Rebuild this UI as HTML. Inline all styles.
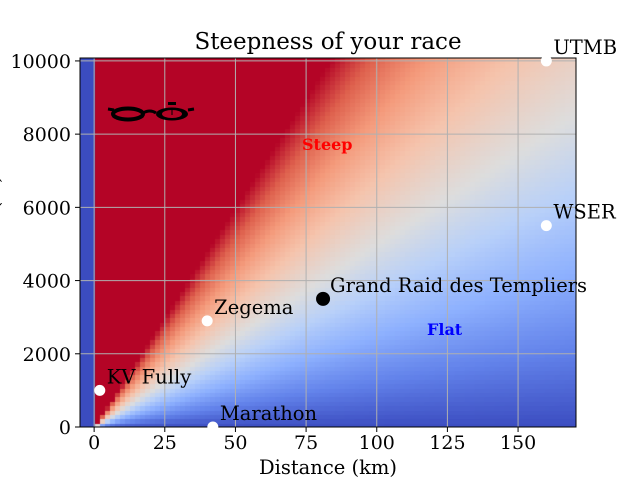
<!DOCTYPE html>
<html><head><meta charset="utf-8"><style>
body{margin:0;background:#fff;overflow:hidden;}
svg text{font-family:"DejaVu Serif","Liberation Serif",serif;}
</style></head><body>
<svg id="chart" width="640" height="480" viewBox="0 0 640 480">
<rect width="640" height="480" fill="#fff"/>
<foreignObject x="80" y="58" width="496" height="369">
<canvas id="hm" width="496" height="369" style="display:block"></canvas>
</foreignObject>
<g id="grid"></g>
<g id="glasses" transform="translate(108,105)">
<ellipse cx="20" cy="9" rx="15" ry="5.5" fill="none" stroke="#000" stroke-width="4"/>
<ellipse cx="64" cy="9" rx="16" ry="6.5" fill="#000"/>
<ellipse cx="64" cy="9" rx="10" ry="4" fill="#b40426"/>
<line x1="64" y1="5" x2="64" y2="10" stroke="#000" stroke-width="1"/>
<path d="M0 4 L6 5 M35 8 Q42 4 48 8 M80 5 L86 4" stroke="#000" stroke-width="3" fill="none"/>
<rect x="60" y="-3" width="8" height="3" fill="#000"/>
</g>
<rect x="80" y="58" width="496" height="369" fill="none" stroke="#000" stroke-width="1"/>
<g id="axes"></g>
<g id="points"></g>
<text x="302" y="150" font-size="16" font-weight="bold" fill="#ff0000">Steep</text>
<text x="427" y="335" font-size="16" font-weight="bold" fill="#0000ff">Flat</text>
<text x="328" y="49" font-size="23" text-anchor="middle">Steepness of your race</text>
<text x="328" y="474" font-size="19.5" text-anchor="middle">Distance (km)</text>
<text transform="translate(-1,242) rotate(-90)" font-size="19.5" text-anchor="middle">Elevation (m)</text>
</svg>
<script>
const xTicks=[0,25,50,75,100,125,150];
const yTicks=[0,2000,4000,6000,8000,10000];
const raceNames=["KV Fully","Zegema","Marathon","Grand Raid des Templiers","WSER","UTMB"];
const raceDist=[2,40,42,81,160,160];
const raceElev=[1000,2900,0,3500,5500,10000];
const raceColor=["#fff","#fff","#fff","#000","#fff","#fff"];
const raceSize=[5.5,5.5,5.5,7,5.5,5.5];
const slopeMin=0, slopeCenter=50, slopeMax=120;

const X0=80,X1=576,Y0=427,Y1=58,xmin=-5,xmax=170.5,ymin=0,ymax=10080;
const sx=v=>X0+(v-xmin)/(xmax-xmin)*(X1-X0);
const sy=v=>Y0-(v-ymin)/(ymax-ymin)*(Y0-Y1);
const NS="http://www.w3.org/2000/svg";
function mk(tag,attrs,parent){const e=document.createElementNS(NS,tag);for(const k in attrs)e.setAttribute(k,attrs[k]);parent.appendChild(e);return e;}

const cm=[[0,59,76,192],[0.125,98,130,234],[0.25,141,176,254],[0.375,184,208,249],[0.5,221,221,221],[0.625,245,196,173],[0.75,244,154,123],[0.875,222,96,77],[1,180,4,38]];
function cmap(t){t=Math.max(0,Math.min(1,t));for(let i=1;i<cm.length;i++){if(t<=cm[i][0]){const a=cm[i-1],b=cm[i],f=(t-a[0])/(b[0]-a[0]);return [0,1,2].map(j=>Math.round(a[j+1]+(b[j+1]-a[j+1])*f));}}return [180,4,38];}
function norm(s){return s<slopeCenter?0.5*(s-slopeMin)/(slopeCenter-slopeMin):0.5+0.5*(s-slopeCenter)/(slopeMax-slopeCenter);}

const ctx=document.getElementById('hm').getContext('2d');
const dx=1.77,dy=120;
for(let d=xmin;d<xmax;d+=dx){for(let e=0;e<ymax;e+=dy){
  const dc=d+dx/2,ec=e+dy/2;
  const s=dc<=0?-1000:ec/dc;
  const c=cmap(norm(s));
  ctx.fillStyle=`rgb(${c[0]},${c[1]},${c[2]})`;
  const px=sx(d)-X0,py=sy(e+dy)-Y1;
  ctx.fillRect(Math.floor(px),Math.floor(py),Math.ceil(sx(d+dx)-sx(d))+1,Math.ceil(sy(e)-sy(e+dy))+1);
}}

const grid=document.getElementById('grid'),axes=document.getElementById('axes');
xTicks.forEach(t=>{const x=sx(t);
 let l=mk('line',{x1:x,x2:x,y1:Y1,y2:Y0,stroke:'#b0b0b0','stroke-width':1},grid);
 
 mk('line',{x1:x,x2:x,y1:Y0,y2:Y0+5,stroke:'#000'},axes);
 let tx=mk('text',{x:x,y:Y0+22,'font-size':19,'text-anchor':'middle'},axes);tx.textContent=t;
 });
yTicks.forEach(t=>{const y=sy(t);
 let l=mk('line',{x1:X0,x2:X1,y1:y,y2:y,stroke:'#b0b0b0','stroke-width':1},grid);
 
 mk('line',{x1:X0-5,x2:X0,y1:y,y2:y,stroke:'#000'},axes);
 let tx=mk('text',{x:X0-9,y:y+7,'font-size':19,'text-anchor':'end'},axes);tx.textContent=t;
 });

const pts=document.getElementById('points');
raceNames.forEach((n,i)=>{const x=sx(raceDist[i]),y=sy(raceElev[i]);
 let c=mk('circle',{cx:x,cy:y,r:raceSize[i],fill:raceColor[i]},pts);
 
 let t=mk('text',{x:x+7,y:y-7,'font-size':19.5},pts);t.textContent=n;
 });
</script>
</body></html>
